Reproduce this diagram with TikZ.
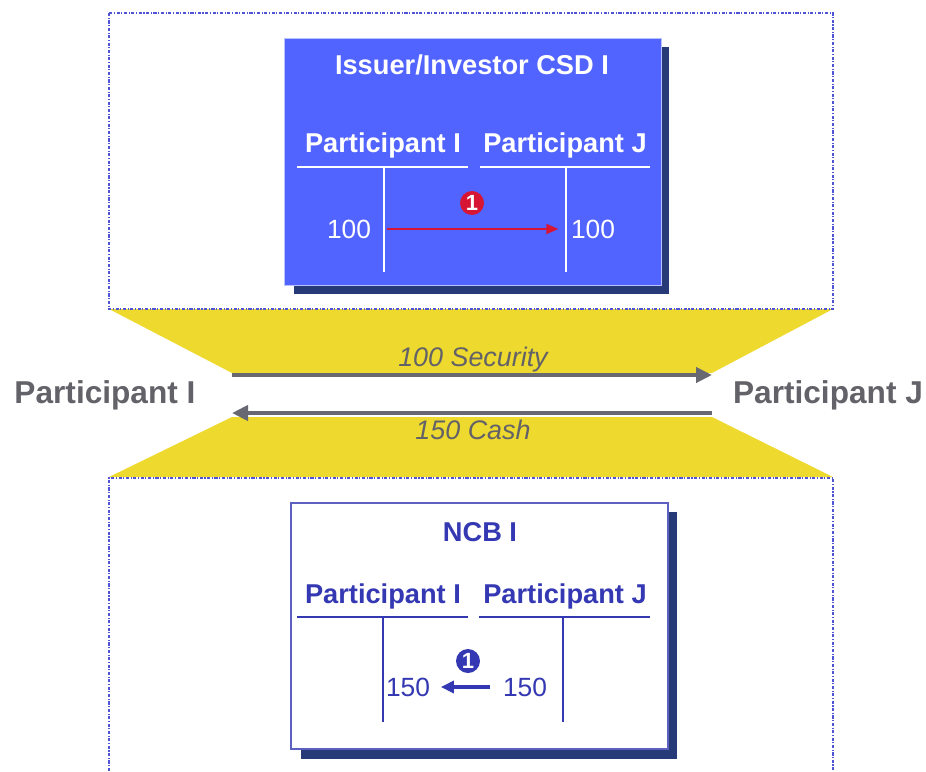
\documentclass[tikz,border=0pt]{standalone}
\usepackage{fontspec}
\setmainfont{Liberation Sans}
\usetikzlibrary{arrows,arrows.meta}
\usetikzlibrary{calc}
\definecolor{csdblue}{RGB}{82,100,255}
\definecolor{shadowblue}{RGB}{38,58,120}
\definecolor{ncbblue}{RGB}{52,56,178}
\definecolor{dotblue}{RGB}{78,84,212}
\definecolor{bandyellow}{RGB}{238,217,46}
\definecolor{pfeilgrau}{RGB}{104,104,114}
\definecolor{textgrau}{RGB}{98,98,104}
\definecolor{markred}{RGB}{214,20,52}

\begin{document}
\begin{tikzpicture}[x=0.02cm, y=-0.02cm,
    frame/.style={dotblue, line width=0.9pt, dash pattern=on 1.8pt off 0.9pt on 0.6pt off 0.9pt},
    boxtxt/.style={font=\bfseries\fontsize{15.5}{18}\selectfont, inner sep=2pt},
    numtxt/.style={font=\fontsize{15}{17}\selectfont, inner sep=2pt},
    bigtxt/.style={textgrau, font=\bfseries\fontsize{18}{21}\selectfont},
    flowtxt/.style={textgrau, font=\itshape\fontsize{15.3}{18}\selectfont},
    flowpfeil/.style={pfeilgrau, line width=2.8pt, -{Triangle[length=0.32cm,width=0.3cm]}},
    stepmark/.style={circle, inner sep=0pt, minimum size=0.48cm, text=white, font=\bfseries\fontsize{12.5}{12}\selectfont}]

    \useasboundingbox (0,0) rectangle (926,771);

    % yellow band between the two accounts
    \fill[bandyellow] (109,309) -- (833,309) -- (712,373) -- (232,373) -- cycle;
    \fill[bandyellow] (232,417) -- (712,417) -- (833,477) -- (109,477) -- cycle;

    % dotted frames
    \draw[frame] (109,13) rectangle (833,309);
    \draw[frame] (109,771) -- (109,478) -- (833,478) -- (833,771);

    % Issuer/Investor CSD I
    \fill[shadowblue] (294,47) rectangle (669,294);
    \draw[csdblue!40!white, fill=csdblue] (284,38) rectangle (661,285);
    \node[boxtxt, white] (csd) at (472,65) {Issuer/Investor CSD I};
    \node[boxtxt, white] (csdI) at (383,145) {Participant I};
    \node[boxtxt, white] (csdJ) at (565,145) {Participant J};
    \draw[white, line width=0.9pt] (297,167) -- (468,167);
    \draw[white, line width=0.9pt] (480,167) -- (650,167);
    \draw[white, line width=0.9pt] (384,167) -- (384,272);
    \draw[white, line width=0.9pt] (566,167) -- (566,272);
    \node[numtxt, white] (csdValI) at (349,229) {100};
    \node[numtxt, white] (csdValJ) at (593,229) {100};
    \draw[markred, line width=0.9pt, -{Triangle[length=0.24cm,width=0.2cm]}, shorten <=7pt, shorten >=5pt] (csdValI.east) -- (csdValJ.west);
    \node[stepmark, fill=markred] (csdStep) at (472,203) {1};

    % flows between the participants
    \node[bigtxt] (partI) at (105,395) {Participant I};
    \node[bigtxt] (partJ) at (828,395) {Participant J};
    \coordinate (secL) at (232,375);
    \coordinate (secR) at (712,375);
    \coordinate (cashL) at (232,413);
    \coordinate (cashR) at (712,413);
    \draw[flowpfeil] (secL) -- (secR);
    \draw[flowpfeil] (cashR) -- (cashL);
    \node[flowtxt] (sec) at (473,360) {100 Security};
    \node[flowtxt] (cash) at (473,430) {150 Cash};

    % NCB I
    \fill[shadowblue] (301,512) rectangle (677,759);
    \draw[ncbblue!80!white, line width=1pt, fill=white] (291,503) rectangle (668,749);
    \node[boxtxt, ncbblue] (ncb) at (480,532) {NCB I};
    \node[boxtxt, ncbblue] (ncbI) at (383,596) {Participant I};
    \node[boxtxt, ncbblue] (ncbJ) at (565,596) {Participant J};
    \draw[ncbblue, line width=0.9pt] (297,617) -- (468,617);
    \draw[ncbblue, line width=0.9pt] (479,617) -- (650,617);
    \draw[ncbblue, line width=0.9pt] (383,617) -- (383,722);
    \draw[ncbblue, line width=0.9pt] (563,617) -- (563,722);
    \node[numtxt, ncbblue] (ncbValI) at (408,687) {150};
    \node[numtxt, ncbblue] (ncbValJ) at (525,687) {150};
    \draw[ncbblue, line width=2pt, -{Triangle[length=0.26cm,width=0.24cm]}, shorten <=5pt, shorten >=4pt] (ncbValJ.west) -- (ncbValI.east);
    \node[stepmark, fill=ncbblue] (ncbStep) at (468,661) {1};

\end{tikzpicture}
\end{document}
